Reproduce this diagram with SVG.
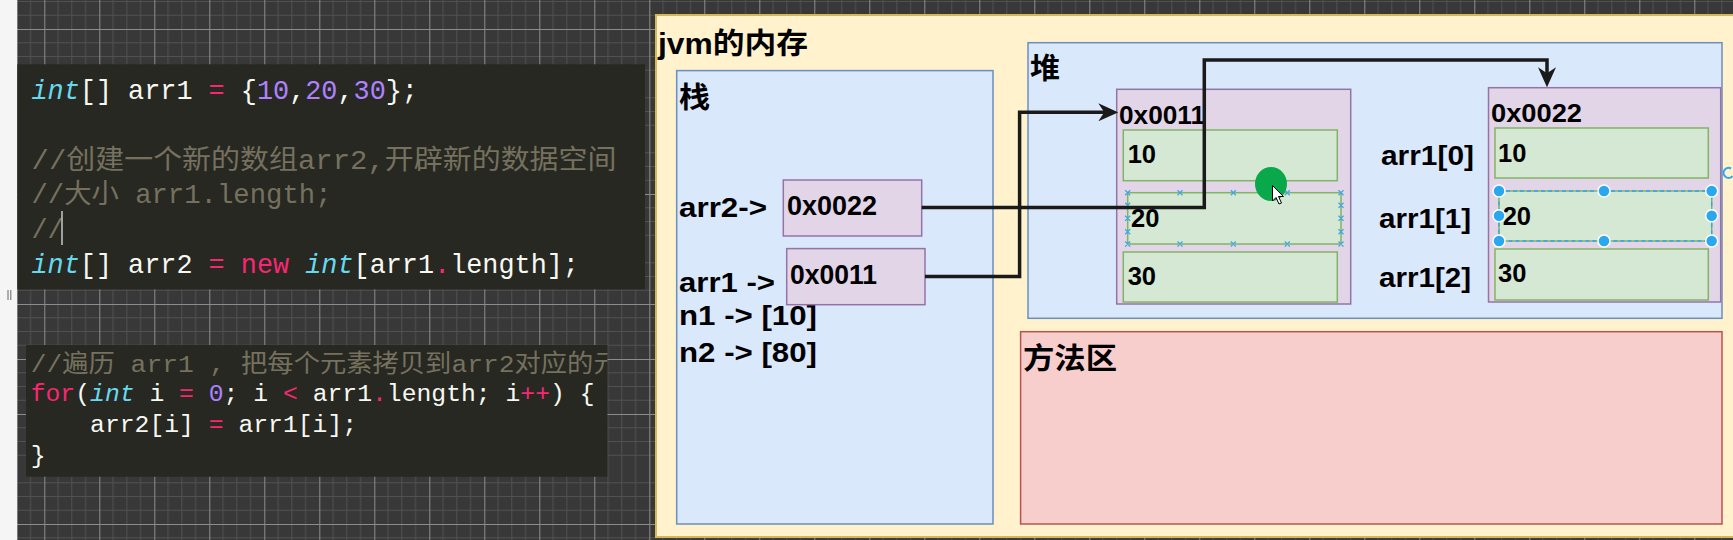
<svg xmlns="http://www.w3.org/2000/svg" width="1733" height="540" viewBox="0 0 1733 540">
<defs>
<pattern id="grid" patternUnits="userSpaceOnUse" x="44.3" y="29" width="55" height="55">
<rect width="55" height="55" fill="#383838"/>
<path d="M13.75,0V55M27.5,0V55M41.25,0V55M0,13.75H55M0,27.5H55M0,41.25H55" stroke="#515151" stroke-width="1"/>
<path d="M0.5,0V55M0,0.5H55" stroke="#8c8c8c" stroke-width="1"/>
</pattern>
<marker id="arrow" markerUnits="userSpaceOnUse" viewBox="0 0 20 18" markerWidth="20" markerHeight="18" refX="10" refY="9" orient="auto">
<path d="M0,0 L20,9 L0,18 L6,9 z" fill="#1a1a1a"/>
</marker>
<clipPath id="clip2"><rect x="26" y="345" width="581.4" height="131.7"/></clipPath>
</defs>
<style>
.code{font-family:"Liberation Mono","Noto Sans CJK SC",monospace;white-space:pre;fill:#f8f8f2}
.c1{font-size:26.83px}
.c2{font-size:24.73px}
.kw{fill:#66d9ef;font-style:italic}
.op{fill:#f92672}
.num{fill:#ae81ff}
.cm{fill:#75715e}
.lbl{font-family:"Liberation Sans","Noto Sans CJK SC",sans-serif;font-weight:bold;fill:#000}
.s27{font-size:27px}
.s26{font-size:25.5px}
.s29{font-size:29px}
.purple{fill:#e1d5e7;stroke:#9673a6;stroke-width:1.5}
.green{fill:#d5e8d4;stroke:#82b366;stroke-width:1.5}
.conn{fill:none;stroke:#1a1a1a;stroke-width:3.5}
</style>

<!-- background -->
<rect x="0" y="0" width="1733" height="540" fill="url(#grid)"/>
<rect x="0" y="0" width="17.3" height="540" fill="#f5f5f5"/>
<path d="M8,290V300M10.8,290V300" stroke="#666" stroke-width="1"/>

<!-- code block 1 -->
<g id="code1">
<rect x="17.3" y="64.3" width="627.7" height="225" fill="#272822"/>
<text class="code c1" x="31.5" y="99"><tspan class="kw">int</tspan>[] arr1 <tspan class="op">=</tspan> {<tspan class="num">10</tspan>,<tspan class="num">20</tspan>,<tspan class="num">30</tspan>};</text>
<text class="code c1 cm" x="31.5" y="168.5" textLength="585" lengthAdjust="spacingAndGlyphs">//创建一个新的数组arr2,开辟新的数据空间</text>
<text class="code c1 cm" x="31.5" y="203" textLength="300" lengthAdjust="spacingAndGlyphs">//大小 arr1.length;</text>
<text class="code c1 cm" x="31.5" y="238">//</text>
<line x1="62" y1="211" x2="62" y2="245" stroke="#c8c8c8" stroke-width="1.5"/>
<text class="code c1" x="31.5" y="273"><tspan class="kw">int</tspan>[] arr2 <tspan class="op">=</tspan> <tspan class="op">new</tspan> <tspan class="kw">int</tspan>[arr1<tspan class="op">.</tspan>length];</text>
</g>

<!-- code block 2 -->
<g id="code2">
<rect x="26" y="345" width="581.4" height="131.7" fill="#272822"/>
<g clip-path="url(#clip2)">
<text class="code c2 cm" x="30.7" y="372" textLength="589" lengthAdjust="spacingAndGlyphs">//遍历 arr1 , 把每个元素拷贝到arr2对应的元</text>
</g>
<text class="code c2" x="30.7" y="401"><tspan class="op">for</tspan>(<tspan class="kw">int</tspan> i <tspan class="op">=</tspan> <tspan class="num">0</tspan>; i <tspan class="op">&lt;</tspan> arr1<tspan class="op">.</tspan>length; i<tspan class="op">++</tspan>) {</text>
<text class="code c2" x="90.1" y="432">arr2[i] <tspan class="op">=</tspan> arr1[i];</text>
<text class="code c2" x="30.7" y="463">}</text>
</g>

<!-- jvm memory container -->
<g id="jvm">
<rect x="656" y="15" width="1090" height="522" fill="#fff2cc" stroke="#d6b656" stroke-width="2"/>
<text class="lbl s29" x="658" y="53.5" textLength="150" lengthAdjust="spacingAndGlyphs">jvm的内存</text>
</g>

<!-- stack -->
<g id="stack">
<rect x="676.7" y="70.6" width="316.3" height="453.4" fill="#dae8fc" stroke="#6c8ebf" stroke-width="1.5"/>
<text class="lbl s29" x="679" y="108" textLength="31" lengthAdjust="spacingAndGlyphs">栈</text>
<text class="lbl s27" x="679" y="217" textLength="88" lengthAdjust="spacingAndGlyphs">arr2-&gt;</text>
<text class="lbl s27" x="679" y="292" textLength="96" lengthAdjust="spacingAndGlyphs">arr1 -&gt;</text>
<text class="lbl s27" x="679" y="325" textLength="138" lengthAdjust="spacingAndGlyphs">n1 -&gt; [10]</text>
<text class="lbl s27" x="679" y="362" textLength="138" lengthAdjust="spacingAndGlyphs">n2 -&gt; [80]</text>
</g>
<g id="stack-arr2">
<rect class="purple" x="783.3" y="180" width="138.4" height="56"/>
<text class="lbl s27" x="787" y="215" textLength="90" lengthAdjust="spacingAndGlyphs">0x0022</text>
</g>
<g id="stack-arr1">
<rect class="purple" x="786.7" y="248.6" width="138.3" height="56.1"/>
<text class="lbl s27" x="790" y="284" textLength="87" lengthAdjust="spacingAndGlyphs">0x0011</text>
</g>

<!-- heap -->
<g id="heap">
<rect x="1028" y="42.7" width="694" height="275.6" fill="#dae8fc" stroke="#6c8ebf" stroke-width="1.5"/>
<text class="lbl s29" x="1030" y="79" textLength="30" lengthAdjust="spacingAndGlyphs">堆</text>
<text class="lbl s27" x="1381" y="165" textLength="93" lengthAdjust="spacingAndGlyphs">arr1[0]</text>
<text class="lbl s27" x="1379" y="228" textLength="92" lengthAdjust="spacingAndGlyphs">arr1[1]</text>
<text class="lbl s27" x="1379" y="287" textLength="92" lengthAdjust="spacingAndGlyphs">arr1[2]</text>
</g>
<g id="heap-0x0011">
<rect class="purple" x="1116.7" y="89.3" width="234" height="214.7"/>
<text class="lbl s26" x="1119" y="124" textLength="86" lengthAdjust="spacingAndGlyphs">0x0011</text>
<rect class="green" x="1123.3" y="130" width="214" height="50.7"/>
<text class="lbl s26" x="1127.7" y="163">10</text>
<rect class="green" x="1127.7" y="192.7" width="213.3" height="51.3"/>
<text class="lbl s26" x="1131" y="227">20</text>
<rect class="green" x="1123.3" y="252" width="214" height="50"/>
<text class="lbl s26" x="1127.7" y="285">30</text>
<path d="M1125.2,190.2l5,5m0,-5l-5,5M1177.5,190.2l5,5m0,-5l-5,5M1230.8,190.2l5,5m0,-5l-5,5M1284.8,190.2l5,5m0,-5l-5,5M1338.5,190.2l5,5m0,-5l-5,5M1125.2,241.5l5,5m0,-5l-5,5M1177.5,241.5l5,5m0,-5l-5,5M1230.8,241.5l5,5m0,-5l-5,5M1284.8,241.5l5,5m0,-5l-5,5M1338.5,241.5l5,5m0,-5l-5,5M1125.2,202.8l5,5m0,-5l-5,5M1125.2,215.8l5,5m0,-5l-5,5M1125.2,229.2l5,5m0,-5l-5,5M1338.5,202.8l5,5m0,-5l-5,5M1338.5,215.8l5,5m0,-5l-5,5M1338.5,229.2l5,5m0,-5l-5,5" stroke="#3fa9e0" stroke-width="1.3" fill="none"/>
</g>
<g id="heap-0x0022">
<rect class="purple" x="1488.5" y="87.7" width="232.2" height="214.3"/>
<text class="lbl s26" x="1491" y="122" textLength="91" lengthAdjust="spacingAndGlyphs">0x0022</text>
<rect class="green" x="1495" y="128" width="213.3" height="50"/>
<text class="lbl s26" x="1498" y="162">10</text>
<rect class="green" x="1499" y="191" width="212.7" height="50"/>
<text class="lbl s26" x="1502.7" y="225">20</text>
<rect class="green" x="1495" y="249" width="213.3" height="51"/>
<text class="lbl s26" x="1498" y="282">30</text>
<rect x="1499" y="191" width="212.7" height="50" fill="none" stroke="#29a8f0" stroke-width="1.3" stroke-dasharray="4 3"/>
<g fill="#29a8f0" stroke="#ffffff" stroke-width="1.5">
<circle cx="1499" cy="191" r="6"/><circle cx="1604" cy="191" r="6"/><circle cx="1711.7" cy="191" r="6"/>
<circle cx="1499" cy="215.7" r="6"/><circle cx="1711.7" cy="215.7" r="6"/>
<circle cx="1499" cy="241" r="6"/><circle cx="1604" cy="241" r="6"/><circle cx="1711.7" cy="241" r="6"/>
</g>
<path d="M1731,168.5 A5,5 0 1 0 1732.5,176" fill="none" stroke="#29a8f0" stroke-width="2"/>
</g>

<!-- method area -->
<g id="method-area">
<rect x="1020.6" y="331.7" width="701.4" height="192.3" fill="#f8cecc" stroke="#b85450" stroke-width="1.5"/>
<text class="lbl s29" x="1023" y="369" textLength="94" lengthAdjust="spacingAndGlyphs">方法区</text>
</g>

<!-- connectors -->
<g id="connectors">
<path class="conn" d="M921.7,207.5 H1204.3 V60 H1547 V77.3" marker-end="url(#arrow)"/>
<path class="conn" d="M925,276.5 H1019.6 V112.3 H1108.3" marker-end="url(#arrow)"/>
</g>

<!-- editor pointer -->
<ellipse cx="1271" cy="184" rx="16" ry="17" fill="#08a84b"/>
<path d="M1272.5,185.5 L1272.5,201 L1276,197.5 L1279,204 L1281.5,203 L1278.5,196.5 L1283.5,196.5 Z" fill="#ffffff" stroke="#000" stroke-width="1"/>
</svg>
